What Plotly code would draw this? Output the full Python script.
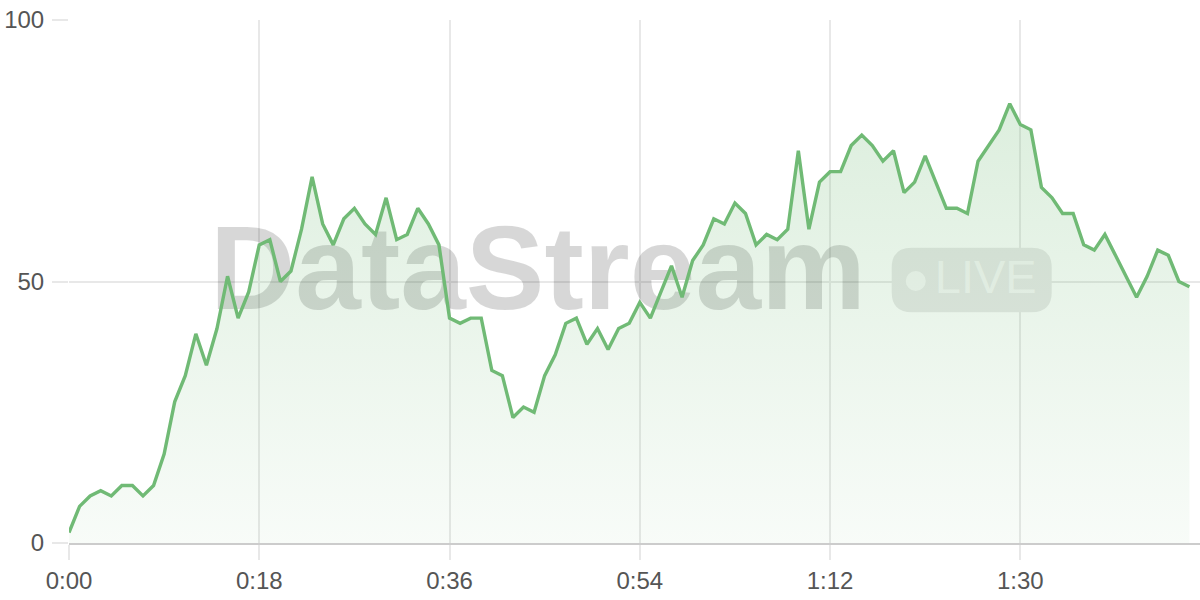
import plotly.graph_objects as go

# ---- data (seconds since start, value) ----
seconds = list(range(107))
values = [2, 7, 9, 10, 9, 11, 11, 9, 11, 17,
          27, 32, 40, 34, 41, 51, 43, 48, 57, 58,
          50, 52, 60, 70, 61, 57, 62, 64, 61, 59,
          66, 58, 59, 64, 61, 57, 43, 42, 43, 43,
          33, 32, 24, 26, 25, 32, 36, 42, 43, 38,
          41, 37, 41, 42, 46, 43, 48, 53, 47, 54,
          57, 62, 61, 65, 63, 57, 59, 58, 60, 75,
          60, 69, 71, 71, 76, 78, 76, 73, 75, 67,
          69, 74, 69, 64, 64, 63, 73, 76, 79, 84,
          80, 79, 68, 66, 63, 63, 57, 56, 59, 55,
          51, 47, 51, 56, 55, 50, 49]
tick_vals = [0, 18, 36, 54, 72, 90]
tick_text = ["0:00", "0:18", "0:36", "0:54", "1:12", "1:30"]
y_ticks = [0, 50, 100]

X_RANGE = [0, 107]
Y_RANGE = [0, 100]

def frac_to_data(fx, fy):
    return (X_RANGE[0] + fx * (X_RANGE[1] - X_RANGE[0]),
            Y_RANGE[0] + fy * (Y_RANGE[1] - Y_RANGE[0]))

LINE = "rgb(112,186,117)"
FONT = "Liberation Sans, Arial, sans-serif"

fig = go.Figure()

# watermark text (drawn beneath the series)
wx, wy = frac_to_data(0.4147, 0.503)
fig.add_trace(go.Scatter(
    x=[wx], y=[wy], mode="text", text=["DataStream"],
    textposition="middle center",
    textfont=dict(family=FONT, size=118, weight=700, color="rgba(0,0,0,0.155)"),
    hoverinfo="skip", showlegend=False, cliponaxis=False))

lx, ly = frac_to_data(0.8106, 0.500)
fig.add_trace(go.Scatter(
    x=[lx], y=[ly], mode="text", text=["LIVE"],
    textposition="middle center",
    textfont=dict(family=FONT, size=47, color="rgba(255,255,255,0.65)"),
    hoverinfo="skip", showlegend=False, cliponaxis=False))

dx, dy = frac_to_data(0.7487, 0.501)
fig.add_trace(go.Scatter(
    x=[dx], y=[dy], mode="markers",
    marker=dict(size=20, color="rgba(255,255,255,0.65)", line=dict(width=0)),
    hoverinfo="skip", showlegend=False, cliponaxis=False))

# series
fig.add_trace(go.Scatter(
    x=seconds, y=values, mode="lines",
    line=dict(color=LINE, width=3.4),
    fill="tozeroy",
    fillgradient=dict(type="vertical",
                      colorscale=[[0, "rgba(112,186,117,0.05)"],
                                  [1, "rgba(112,186,117,0.24)"]]),
    hoverinfo="skip", showlegend=False))

# LIVE badge (rounded rectangle, paper coords)
x0, x1 = 0.7274, 0.8689
y0, y1 = 0.4411, 0.5646
rx, ry = 20 / 1131, 20 / 523
path = (f"M {x0+rx},{y0} L {x1-rx},{y0} Q {x1},{y0} {x1},{y0+ry} "
        f"L {x1},{y1-ry} Q {x1},{y1} {x1-rx},{y1} L {x0+rx},{y1} "
        f"Q {x0},{y1} {x0},{y1-ry} L {x0},{y0+ry} Q {x0},{y0} {x0+rx},{y0} Z")
fig.add_shape(type="path", path=path, xref="paper", yref="paper",
              fillcolor="rgba(0,0,0,0.09)", line=dict(width=0), layer="below")

fig.update_layout(
    width=1200, height=600,
    margin=dict(l=69, r=0, t=20, b=57),
    paper_bgcolor="white", plot_bgcolor="white",
    font=dict(family=FONT, size=24, color="#555555"),
    showlegend=False,
    xaxis=dict(range=X_RANGE, tickvals=tick_vals, ticktext=tick_text,
               showgrid=True, gridcolor="#e8e8e8", gridwidth=2,
               zeroline=False, showline=True, linecolor="#cccccc", linewidth=2,
               ticks="outside", ticklen=15, tickwidth=2, tickcolor="#e8e8e8",
               tickfont=dict(size=24, color="#555555"), fixedrange=True),
    yaxis=dict(range=Y_RANGE, tickvals=y_ticks,
               showgrid=True, gridcolor="#e8e8e8", gridwidth=2,
               zeroline=False, showline=False,
               ticks="outside", ticklen=16, tickwidth=2, tickcolor="#e8e8e8",
               ticklabelstandoff=3,
               tickfont=dict(size=24, color="#555555"), fixedrange=True),
)

fig.write_html("out.html", config={"displayModeBar": False, "staticPlot": True},
               post_script="document.body.style.margin='0';document.body.style.overflow='hidden';")
